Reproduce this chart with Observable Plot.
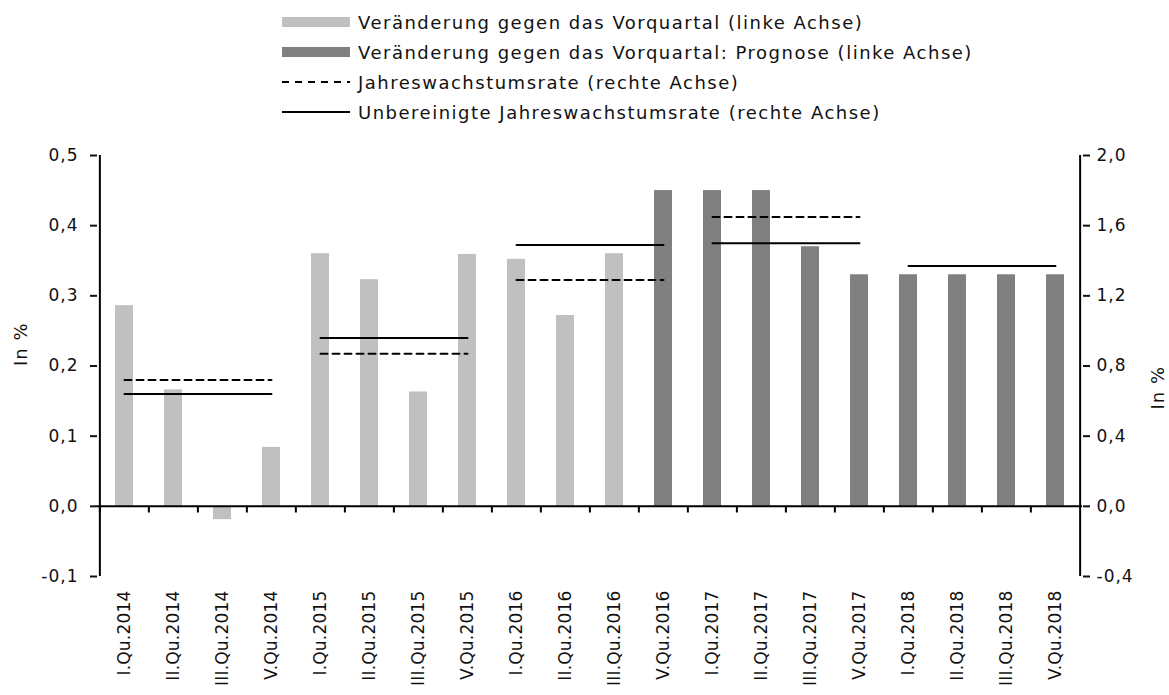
<!DOCTYPE html>
<html>
<head>
<meta charset="utf-8">
<script src="https://cdn.jsdelivr.net/npm/d3@7"></script>
<script src="https://cdn.jsdelivr.net/npm/@observablehq/plot@0.6"></script>
<style>
  html, body { margin: 0; padding: 0; background: #fff; }
  body { width: 1169px; height: 695px; overflow: hidden; font-family: "DejaVu Sans", sans-serif; }
  #legend { position: relative; height: 130px; width: 1169px; }
  .item { position: absolute; left: 282px; display: flex; align-items: center; height: 24px; font-size: 18px; letter-spacing: 1.5px; color: #111; white-space: nowrap; }
  .sw { width: 68px; height: 24px; margin-right: 8px; display: flex; align-items: center; }
  #chart svg { display: block; }
  #chart svg text { letter-spacing: 1px; }
  #chart svg g[aria-label="x-axis tick label"] text { letter-spacing: 0.2px; }
</style>
</head>
<body>
<div id="legend"></div>
<div id="chart"></div>
<script>
// ---- data ----
const quarters = [
  "I.Qu.2014","II.Qu.2014","III.Qu.2014","V.Qu.2014",
  "I.Qu.2015","II.Qu.2015","III.Qu.2015","V.Qu.2015",
  "I.Qu.2016","II.Qu.2016","III.Qu.2016","V.Qu.2016",
  "I.Qu.2017","II.Qu.2017","III.Qu.2017","V.Qu.2017",
  "I.Qu.2018","II.Qu.2018","III.Qu.2018","V.Qu.2018"
];
// change vs previous quarter (left axis), in %
const qoqChange = [0.286, 0.166, -0.019, 0.084, 0.360, 0.323, 0.163, 0.359, 0.352, 0.272, 0.360,
                   0.450, 0.450, 0.450, 0.370, 0.330, 0.330, 0.330, 0.330, 0.330];
// forecast flag (first forecast: V.Qu.2016)
const forecastStart = 11;
const years = ["2014", "2015", "2016", "2017", "2018"];
// annual growth rate (right axis)
const annualRate = [0.72, 0.87, 1.29, 1.65, null];
// unadjusted annual growth rate (right axis)
const unadjustedRate = [0.64, 0.96, 1.49, 1.50, 1.37];
const leftTicks = [-0.1, 0, 0.1, 0.2, 0.3, 0.4, 0.5];
const rightTicks = [-0.4, 0, 0.4, 0.8, 1.2, 1.6, 2.0];
const legendLabels = [
  "Veränderung gegen das Vorquartal (linke Achse)",
  "Veränderung gegen das Vorquartal: Prognose (linke Achse)",
  "Jahreswachstumsrate (rechte Achse)",
  "Unbereinigte Jahreswachstumsrate (rechte Achse)"
];

const LIGHT = "#c0c0c0", DARK = "#808080";
const ratio = 4; // right axis = left axis * 4

const bars = quarters.map((q, i) => ({q, v: qoqChange[i], fill: i >= forecastStart ? DARK : LIGHT}));
function yearSegments(rates) {
  return years.flatMap((yr, i) => rates[i] == null ? [] : [
    {q: quarters[4 * i], v: rates[i], yr},
    {q: quarters[4 * i + 3], v: rates[i], yr}
  ]);
}
const annualData = yearSegments(annualRate);
const unadjData = yearSegments(unadjustedRate);

const fmt = d => d.toFixed(1).replace(".", ",").replace("-0,0", "0,0");

// ---- legend ----
const legend = document.getElementById("legend");
const rowsY = [10, 40, 70, 100];
const swatches = [
  `<div style="width:68px;height:10px;background:${LIGHT}"></div>`,
  `<div style="width:68px;height:10px;background:${DARK}"></div>`,
  `<svg width="68" height="4"><line x1="0" x2="68" y1="2" y2="2" stroke="#000" stroke-width="2" stroke-dasharray="7,6"/></svg>`,
  `<svg width="68" height="4"><line x1="0" x2="68" y1="2" y2="2" stroke="#000" stroke-width="2"/></svg>`
];
legendLabels.forEach((t, i) => {
  const d = document.createElement("div");
  d.className = "item";
  d.style.top = rowsY[i] + "px";
  d.innerHTML = `<div class="sw">${swatches[i]}</div><span>${t}</span>`;
  legend.appendChild(d);
});

// ---- chart ----
const W = 1169, H = 565, ML = 97, MR = 87, MT = 25, MB = 119;
const half = (W - ML - MR) / quarters.length / 2;

const chart = Plot.plot({
  width: W, height: H,
  marginLeft: ML, marginRight: MR, marginTop: MT, marginBottom: MB,
  style: {fontFamily: "DejaVu Sans, sans-serif", fontSize: "17px", color: "#111", background: "#fff"},
  x: {type: "band", domain: quarters, paddingInner: 0.64, paddingOuter: 0.32},
  y: {domain: [-0.1, 0.5]},
  marks: [
    Plot.barY(bars, {x: "q", y: "v", fill: "fill"}),
    Plot.lineY(annualData, {x: "q", y: d => d.v / ratio, z: "yr", stroke: "#000", strokeWidth: 2, strokeDasharray: "7,5"}),
    Plot.lineY(unadjData, {x: "q", y: d => d.v / ratio, z: "yr", stroke: "#000", strokeWidth: 2}),
    // zero line
    Plot.ruleY([0], {stroke: "#000", strokeWidth: 2}),
    // category boundary ticks on the zero line
    Plot.ruleX(quarters, {x: d => d, y1: 0, y2: -0.0095, dx: -half, stroke: "#000", strokeWidth: 2}),
    // axis lines
    Plot.ruleX([quarters[0]], {y1: -0.1, y2: 0.5, dx: -half, stroke: "#000", strokeWidth: 2}),
    Plot.ruleX([quarters[quarters.length - 1]], {y1: -0.1, y2: 0.5, dx: half, stroke: "#000", strokeWidth: 2}),
    Plot.axisY({anchor: "left", ticks: leftTicks, tickFormat: fmt, tickSize: 7, tickPadding: 12, strokeWidth: 2, label: null}),
    Plot.axisY({anchor: "right", ticks: rightTicks.map(v => v / ratio), tickFormat: d => fmt(d * ratio), tickSize: 7, tickPadding: 7, strokeWidth: 2, label: null}),
    Plot.axisX({anchor: "bottom", tickSize: 0, tickPadding: 14, tickRotate: -90, label: null, fontSize: 17}),
    Plot.text(["In %"], {frameAnchor: "left", dx: -76, rotate: -90, fontSize: 18}),
    Plot.text(["In %"], {frameAnchor: "right", dx: 76, rotate: -90, fontSize: 18})
  ]
});
document.getElementById("chart").appendChild(chart);
</script>
</body>
</html>
